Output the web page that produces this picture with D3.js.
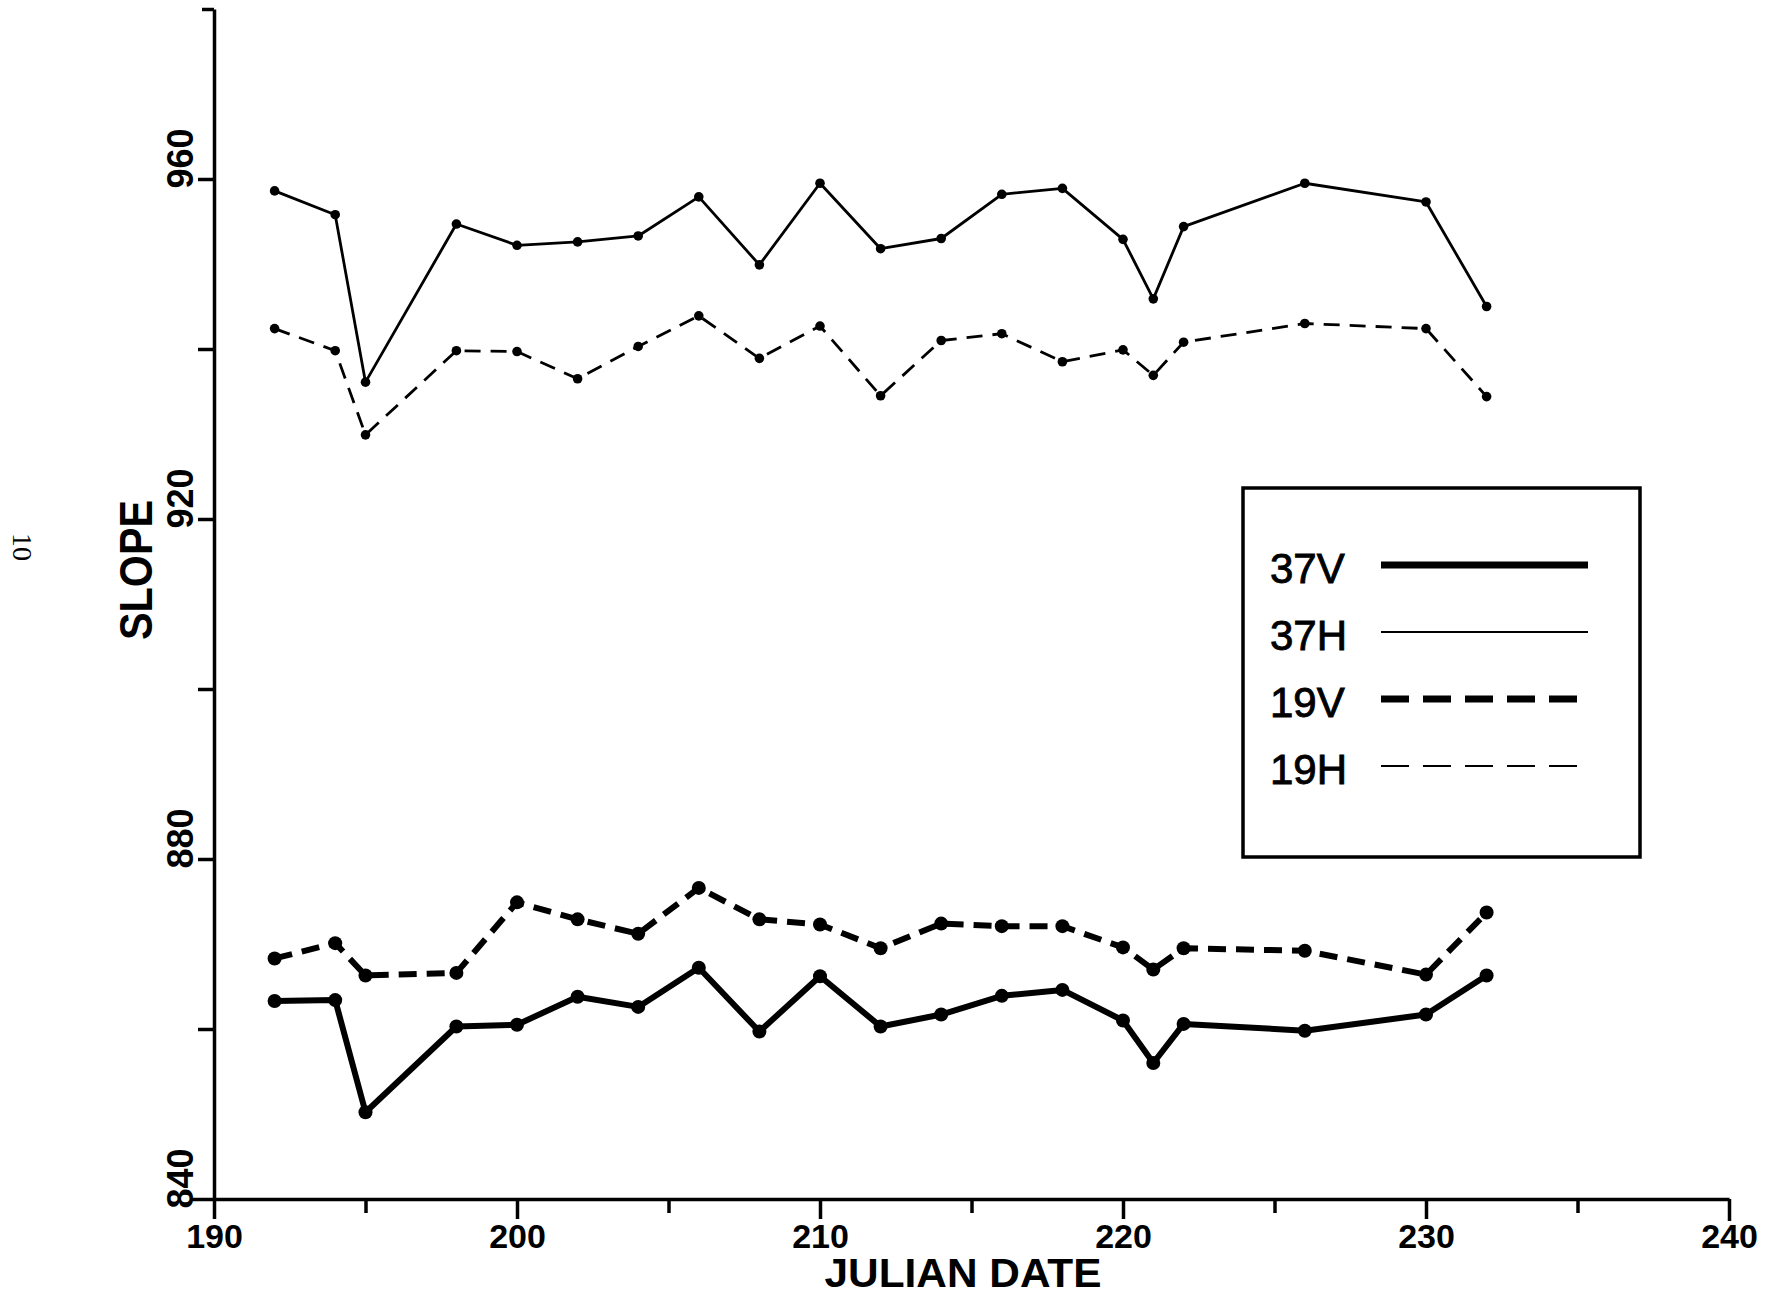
<!DOCTYPE html>
<html>
<head>
<meta charset="utf-8">
<script src="https://cdn.jsdelivr.net/npm/d3@7"></script>
<style>
  body { margin: 0; background: #fff; }
  svg { display: block; }
  text { fill: #000; }
</style>
</head>
<body>
<script>
// julian dates of the passes
var dates = [192, 194, 195, 198, 200, 202, 204, 206, 208, 210,
             212, 214, 216, 218, 220, 221, 222, 226, 230, 232];

// slope per channel
var slope37V = [863.3, 863.4, 850.2, 860.3, 860.5, 863.8, 862.6, 867.2, 859.7, 866.2,
                860.3, 861.7, 863.9, 864.6, 861.0, 856.0, 860.6, 859.8, 861.7, 866.3];
var slope37H = [958.6, 955.8, 936.1, 954.7, 952.2, 952.6, 953.3, 957.9, 949.9, 959.5,
                951.8, 953.0, 958.2, 958.9, 952.9, 945.9, 954.4, 959.5, 957.3, 945.0];
var slope19V = [868.3, 870.1, 866.3, 866.6, 874.9, 872.9, 871.2, 876.6, 872.9, 872.3,
                869.5, 872.4, 872.1, 872.1, 869.6, 867.0, 869.5, 869.2, 866.4, 873.7];
var slope19H = [942.4, 939.8, 929.9, 939.8, 939.7, 936.5, 940.3, 943.9, 938.9, 942.7,
                934.5, 941.0, 941.8, 938.5, 939.9, 936.9, 940.8, 943.0, 942.4, 934.4];

var seriesNames = ["37V", "37H", "19V", "19H"];
var seriesValues = [slope37V, slope37H, slope19V, slope19H];

var xTicks = [190, 195, 200, 205, 210, 215, 220, 225, 230, 235, 240];
var yTicks = [840, 860, 880, 900, 920, 940, 960, 980];
var yLabels = [840, 880, 920, 960];

// line look per channel
var styles = {
  "37V": { width: 6,   dash: null,    r: 7,   legendWidth: 7,   legendDash: null },
  "37H": { width: 2.8, dash: null,    r: 4.8, legendWidth: 2.2, legendDash: null },
  "19V": { width: 6,   dash: "18,10", r: 7,   legendWidth: 7,   legendDash: "28,14" },
  "19H": { width: 2.8, dash: "16,10", r: 4.8, legendWidth: 2.2, legendDash: "28,14" }
};

var width = 1771,
    height = 1300;

var x = d3.scaleLinear().domain([190, 240]).range([214, 1729]);
var y = d3.scaleLinear().domain([840, 980]).range([1199, 9]);

var svg = d3.select("body").append("svg")
    .attr("width", width)
    .attr("height", height)
    .style("font-family", "'Liberation Sans', Arial, Helvetica, sans-serif");

svg.append("rect")
    .attr("width", width)
    .attr("height", height)
    .attr("fill", "#fff");

// x axis
var xAxis = svg.append("g")
    .attr("class", "x axis")
    .attr("transform", "translate(0," + y(840) + ")")
    .call(d3.axisBottom(x)
      .tickValues(xTicks)
      .tickSize(20)
      .tickSizeOuter(0)
      .tickFormat(function(d) { return d % 10 === 0 ? d : ""; }));

xAxis.select(".domain").attr("stroke", "#000").attr("stroke-width", 3.5);
xAxis.selectAll(".tick line")
    .attr("stroke", "#000")
    .attr("stroke-width", 3.5)
    .attr("y2", function(d) { return d % 10 === 0 ? (d === 240 ? 22 : 20) : 14; });
xAxis.selectAll(".tick text")
    .attr("y", 49)
    .attr("dy", null)
    .attr("font-size", 34)
    .attr("font-weight", "bold")
    .attr("font-family", "'Liberation Sans', Arial, sans-serif");

// y axis
var yAxis = svg.append("g")
    .attr("class", "y axis")
    .attr("transform", "translate(" + x(190) + ",0)")
    .call(d3.axisLeft(y)
      .tickValues(yTicks)
      .tickSize(16)
      .tickSizeOuter(0)
      .tickFormat(function(d) { return yLabels.indexOf(d) >= 0 ? d : ""; }));

yAxis.select(".domain").attr("stroke", "#000").attr("stroke-width", 3.5);
yAxis.selectAll(".tick line")
    .attr("stroke", "#000")
    .attr("stroke-width", 3.5)
    .attr("x2", function(d) { return d === 840 ? -22 : (d === 980 ? -12 : -16); });
yAxis.selectAll(".tick text")
    .attr("x", null)
    .attr("dy", null)
    .attr("text-anchor", "start")
    .attr("transform", "translate(-21,9) rotate(-90)")
    .attr("font-size", 36)
    .attr("font-weight", "bold")
    .attr("font-family", "'Liberation Sans', Arial, sans-serif");

// axis titles
svg.append("text")
    .attr("transform", "translate(152,570) rotate(-90)")
    .attr("text-anchor", "middle")
    .attr("font-size", 46)
    .attr("font-weight", "bold")
    .attr("textLength", 140)
    .attr("lengthAdjust", "spacingAndGlyphs")
    .text("SLOPE");

svg.append("text")
    .attr("x", 963)
    .attr("y", 1287)
    .attr("text-anchor", "middle")
    .attr("font-size", 41)
    .attr("font-weight", "bold")
    .attr("textLength", 277)
    .attr("lengthAdjust", "spacingAndGlyphs")
    .text("JULIAN DATE");

// page number on the margin
svg.append("text")
    .attr("transform", "translate(13,547) rotate(90)")
    .attr("text-anchor", "middle")
    .attr("font-family", "'Liberation Serif', 'Times New Roman', serif")
    .attr("font-size", 28)
    .text("10");

// series
var line = d3.line()
    .x(function(d) { return x(d.date); })
    .y(function(d) { return y(d.value); });

seriesNames.forEach(function(name, i) {
  var pts = dates.map(function(d, j) { return { date: d, value: seriesValues[i][j] }; });
  var st = styles[name];
  var g = svg.append("g").attr("class", "series s" + name);

  g.append("path")
      .datum(pts)
      .attr("d", line)
      .attr("fill", "none")
      .attr("stroke", "#000")
      .attr("stroke-width", st.width)
      .attr("stroke-linejoin", "round")
      .attr("stroke-dasharray", st.dash);

  g.selectAll("circle")
      .data(pts)
    .enter().append("circle")
      .attr("cx", function(d) { return x(d.date); })
      .attr("cy", function(d) { return y(d.value); })
      .attr("r", st.r)
      .attr("fill", "#000");
});

// legend
var legend = svg.append("g").attr("class", "legend");

legend.append("rect")
    .attr("x", 1243)
    .attr("y", 488)
    .attr("width", 397)
    .attr("height", 369)
    .attr("fill", "none")
    .attr("stroke", "#000")
    .attr("stroke-width", 3.5);

var rows = legend.selectAll(".row")
    .data(seriesNames)
  .enter().append("g")
    .attr("class", "row")
    .attr("transform", function(d, i) { return "translate(0," + (i * 67) + ")"; });

rows.append("text")
    .attr("x", 1270)
    .attr("y", 583)
    .attr("font-size", 42)
    .attr("stroke", "#000")
    .attr("stroke-width", 0.9)
    .text(function(d) { return d; });

rows.append("line")
    .attr("x1", 1381)
    .attr("x2", 1588)
    .attr("y1", 565)
    .attr("y2", 565)
    .attr("stroke", "#000")
    .attr("stroke-width", function(d) { return styles[d].legendWidth; })
    .attr("stroke-dasharray", function(d) { return styles[d].legendDash; });
</script>
</body>
</html>
